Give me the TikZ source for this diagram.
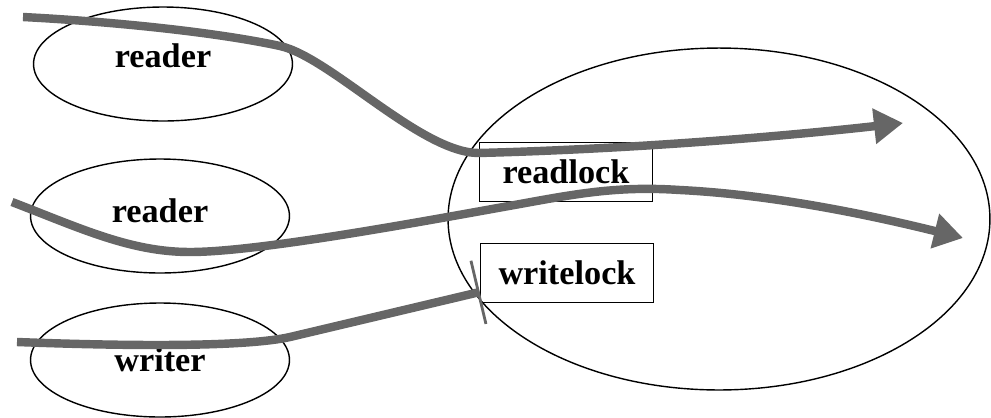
\documentclass[tikz,border=0pt]{standalone}
\usepackage{fontspec}
\setmainfont{Liberation Serif}
\usepackage{tikz}
\usetikzlibrary{arrows.meta,shapes.geometric,calc}
\definecolor{flowgrey}{HTML}{666666}
\tikzset{
    every node/.style={font=\fontsize{19.5}{22}\selectfont\bfseries},
    thread/.style={ellipse,draw,line width=0.8pt,minimum width=5.18cm,minimum height=2.28cm,inner sep=0pt},
    monitor/.style={ellipse,draw,line width=0.8pt,minimum width=10.84cm,minimum height=6.84cm,inner sep=0pt},
    lockbox/.style={rectangle,draw,line width=0.8pt,minimum width=3.46cm,minimum height=1.18cm,inner sep=0pt},
    flow/.style={draw=flowgrey,line width=4.8pt,line join=round},
    flowhead/.style={flow,-{Triangle[length=0.58cm,width=0.68cm]}},
    flowbar/.style={flow,-{Bar[width=1.3cm,line width=1.6pt]}}
}

\begin{document}
\begin{tikzpicture}[x=0.02cm,y=-0.02cm]
\useasboundingbox (0,0) rectangle (991,417);
\node[monitor] (mon) at (719,219) {};
\node[thread,text depth=0.32cm] (rd1) at (163,64) {reader};
\node[thread,text depth=0.2cm] (rd2) at (160,216) {reader};
\node[thread] (wr) at (160,360) {writer};
\node[lockbox] (rlock) at (566,172) {readlock};
\node[lockbox] (wlock) at (567,273) {writelock};
% ends and bends of the three threads
\coordinate (r1s) at (23,17);
\coordinate (r1a) at (280,46);
\coordinate (r1b) at (478,153);
\coordinate (r1e) at (903,123);
\coordinate (r2s) at (12,202);
\coordinate (r2a) at (190,252);
\coordinate (r2b) at (520,204);
\coordinate (r2c) at (680,190);
\coordinate (r2e) at (963,238);
\coordinate (w3s) at (17,342);
\coordinate (w3a) at (290,337);
\coordinate (w3e) at ([yshift=-0.38cm]wlock.west);
\draw[flowhead] (r1s) .. controls (120,22) and (220,33) .. (r1a)
  .. controls (330,57) and (420,152) .. (r1b)
  .. controls (600,150) and (750,140) .. (r1e);
\draw[flowhead] (r2s) .. controls (80,228) and (130,252) .. (r2a)
  .. controls (260,252) and (430,220) .. (r2b)
  .. controls (580,193) and (620,186) .. (r2c)
  .. controls (760,194) and (850,210) .. (r2e);
\draw[flowbar] (w3s) .. controls (150,347) and (250,346) .. (w3a) -- (w3e);
\end{tikzpicture}
\end{document}
